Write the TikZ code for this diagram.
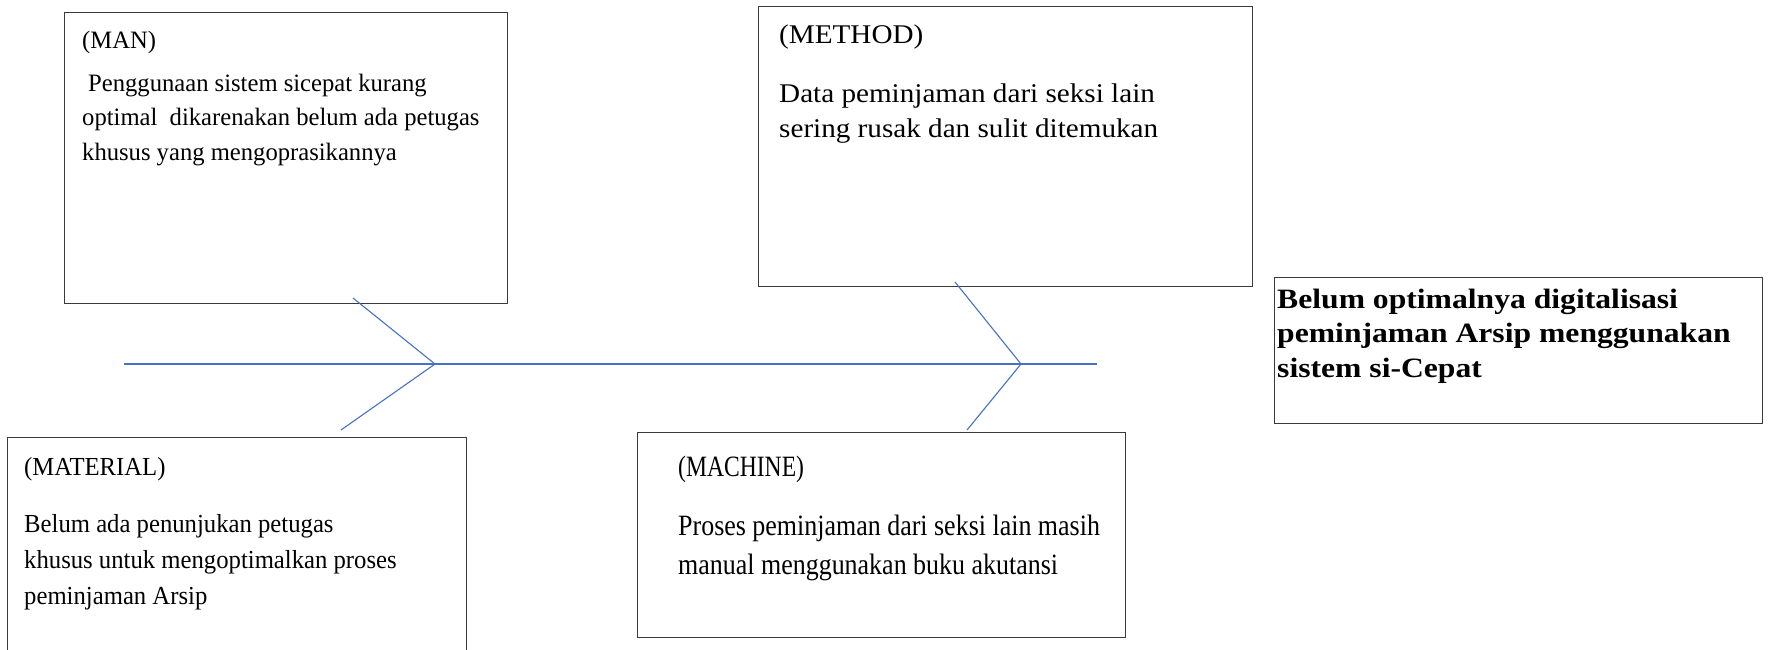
\documentclass[tikz,border=0pt]{standalone}
\usepackage{fontspec}
\setmainfont{Liberation Serif}
\newfontfamily\manf[FakeStretch=0.985]{Liberation Serif}
\newfontfamily\methf[FakeStretch=1.08]{Liberation Serif}
\newfontfamily\matf[FakeStretch=0.95]{Liberation Serif}
\newfontfamily\machf[FakeStretch=0.88]{Liberation Serif}
\newfontfamily\machtf[FakeStretch=0.8]{Liberation Serif}
\newfontfamily\efff[FakeStretch=1.13]{Liberation Serif}
\definecolor{boneblue}{HTML}{4472C4}
\definecolor{boxgray}{HTML}{3A3A3A}
\begin{document}
\begin{tikzpicture}[x=1pt,y=-1pt,
  box/.style={draw=boxgray,line width=1.4pt,anchor=north west,inner sep=0pt},
  bone/.style={draw=boneblue,line width=1.1pt},
  txt/.style={anchor=base west,inner sep=0pt},
  mantx/.style={txt,font=\manf\fontsize{25}{30}\selectfont},
  methtx/.style={txt,font=\methf\fontsize{27}{30}\selectfont},
  mattx/.style={txt,font=\matf\fontsize{26}{30}\selectfont},
  machtx/.style={txt,font=\machf\fontsize{29.5}{30}\selectfont},
  machtt/.style={txt,font=\machtf\fontsize{29.5}{30}\selectfont},
  efftx/.style={txt,font=\efff\bfseries\fontsize{28}{30}\selectfont}]
\useasboundingbox (0,0) rectangle (1777,649);
% boxes
\node[box,minimum width=443pt,minimum height=291pt] (man) at (64,12) {};
\node[box,minimum width=494pt,minimum height=280pt] (method) at (758,6) {};
\node[box,minimum width=459pt,minimum height=230pt] (material) at (7,437) {};
\node[box,minimum width=488pt,minimum height=205pt] (machine) at (637,432) {};
\node[box,minimum width=488pt,minimum height=146pt] (effect) at (1274,277) {};
% MAN
\node[mantx] (man0) at (82,48) {(MAN)};
\node[mantx] (man1) at (88,91) {Penggunaan sistem sicepat kurang};
\node[mantx] (man2) at (82,125) {optimal~ dikarenakan belum ada petugas};
\node[mantx] (man3) at (82,160) {khusus yang mengoprasikannya};
% METHOD
\node[methtx] (meth0) at (779,43) {(METHOD)};
\node[methtx] (meth1) at (779,102) {Data peminjaman dari seksi lain};
\node[methtx] (meth2) at (779,137) {sering rusak dan sulit ditemukan};
% MATERIAL
\node[mattx] (mat0) at (24,475) {(MATERIAL)};
\node[mattx] (mat1) at (24,532) {Belum ada penunjukan petugas};
\node[mattx] (mat2) at (24,568) {khusus untuk mengoptimalkan proses};
\node[mattx] (mat3) at (24,604) {peminjaman Arsip};
% MACHINE
\node[machtt] (mach0) at (678,476) {(MACHINE)};
\node[machtx] (mach1) at (678,535) {Proses peminjaman dari seksi lain masih};
\node[machtx] (mach2) at (678,574) {manual menggunakan buku akutansi};
% EFFECT
\node[efftx] (eff1) at (1277,308) {Belum optimalnya digitalisasi};
\node[efftx] (eff2) at (1277,342) {peminjaman Arsip menggunakan};
\node[efftx] (eff3) at (1277,377) {sistem si-Cepat};
% fishbone
\coordinate (tail) at (124,364);
\coordinate (j1) at (435,364);
\coordinate (j2) at (1021,364);
\coordinate (head) at (1097,364);
\coordinate (manend) at (353,298);
\coordinate (matend) at (341,430);
\coordinate (methend) at (955,282);
\coordinate (machend) at (967,430);
\draw[bone] (tail) -- (j1) -- (j2) -- (head);
\draw[bone] (manend) -- (j1) -- (matend);
\draw[bone] (methend) -- (j2) -- (machend);
\end{tikzpicture}
\end{document}
